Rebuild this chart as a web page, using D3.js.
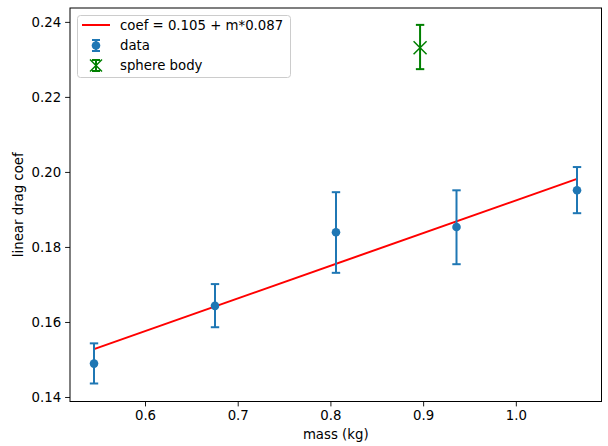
<!DOCTYPE html>
<html><head><meta charset="utf-8">
<script src="https://cdn.jsdelivr.net/npm/d3@7"></script>
<style>body{margin:0;background:#fff}svg{display:block}text{font-family:"DejaVu Sans",sans-serif;fill:#000}</style>
</head><body>
<script>
const massData = [0.545, 0.6755, 0.806, 0.936, 1.066];
const coefData = [0.1489, 0.1643, 0.1839, 0.1853, 0.1951];
const errLow = [0.1436, 0.1586, 0.1731, 0.1754, 0.1890];
const errHigh = [0.1543, 0.1701, 0.1946, 0.1951, 0.2013];
const sphereMass = [0.8967];
const sphereCoef = [0.2331];
const sphereLow = [0.2274];
const sphereHigh = [0.2392];
const fitIntercept = 0.1053, fitSlope = 0.0871;
const xTicks = [0.6, 0.7, 0.8, 0.9, 1.0];
const yTicks = [0.14, 0.16, 0.18, 0.20, 0.22, 0.24];
const legendLabels = ["coef = 0.105 + m*0.087", "data", "sphere body"];

const W = 608, H = 446;
const L = 70, R = 601.5, T = 8, B = 401.5;
const svg = d3.select("body").append("svg").attr("width", W).attr("height", H);
const x = d3.scaleLinear().domain([0.5191, 1.0924]).range([L, R]);
const y = d3.scaleLinear().domain([0.1388, 0.2437]).range([B, T]);
const fs = "13.3px";

// axes
const xa = svg.append("g").attr("transform", `translate(0,${B})`)
  .call(d3.axisBottom(x).tickValues(xTicks).tickFormat(d3.format(".1f")).tickSize(4.9).tickPadding(4));
const ya = svg.append("g").attr("transform", `translate(${L},0)`)
  .call(d3.axisLeft(y).tickValues(yTicks).tickFormat(d3.format(".2f")).tickSize(4.9).tickPadding(4));
[xa, ya].forEach(a => {
  a.select(".domain").remove();
  a.selectAll("text").style("font-size", fs).style("font-family", "DejaVu Sans").attr("fill", "#000");
  a.selectAll("line").attr("stroke", "#000").attr("stroke-width", 0.9);
});

// fit line
const fx = d3.extent(massData);
svg.append("path")
  .datum(fx.map(m => [m, fitIntercept + fitSlope * m]))
  .attr("d", d3.line().x(d => x(d[0])).y(d => y(d[1])))
  .attr("stroke", "red").attr("stroke-width", 2).attr("fill", "none");

// data error bars
const blue = "#1f77b4";
const cap = 4.2;
const dg = svg.append("g");
massData.forEach((m, i) => {
  const cx = x(m);
  dg.append("line").attr("x1", cx).attr("x2", cx).attr("y1", y(errLow[i])).attr("y2", y(errHigh[i])).attr("stroke", blue).attr("stroke-width", 2);
  [errLow[i], errHigh[i]].forEach(v => dg.append("line").attr("x1", cx - cap).attr("x2", cx + cap).attr("y1", y(v)).attr("y2", y(v)).attr("stroke", blue).attr("stroke-width", 2));
  dg.append("circle").attr("cx", cx).attr("cy", y(coefData[i])).attr("r", 4.3).attr("fill", blue);
});

// sphere
const green = "#008000";
sphereMass.forEach((m, i) => {
  const cx = x(m), cy = y(sphereCoef[i]);
  dg.append("line").attr("x1", cx).attr("x2", cx).attr("y1", y(sphereLow[i])).attr("y2", y(sphereHigh[i])).attr("stroke", green).attr("stroke-width", 2);
  [sphereLow[i], sphereHigh[i]].forEach(v => dg.append("line").attr("x1", cx - cap).attr("x2", cx + cap).attr("y1", y(v)).attr("y2", y(v)).attr("stroke", green).attr("stroke-width", 2));
  const s = 6.5;
  dg.append("path").attr("d", `M${cx - s},${cy - s}L${cx + s},${cy + s}M${cx - s},${cy + s}L${cx + s},${cy - s}`).attr("stroke", green).attr("stroke-width", 1.5);
});

// frame
svg.append("rect").attr("x", L).attr("y", T).attr("width", R - L).attr("height", B - T).attr("fill", "none").attr("stroke", "#000").attr("stroke-width", 1);

// legend
const lg = svg.append("g");
lg.append("rect").attr("x", 77.5).attr("y", 15.5).attr("width", 213).attr("height", 62).attr("rx", 3)
  .attr("fill", "#fff").attr("fill-opacity", 0.8).attr("stroke", "#ccc").attr("stroke-width", 1);
const rowY = [25, 45.5, 65.5];
lg.append("line").attr("x1", 82).attr("x2", 110).attr("y1", rowY[0]).attr("y2", rowY[0]).attr("stroke", "red").attr("stroke-width", 2);
{
  const cx = 96, cy = rowY[1];
  lg.append("line").attr("x1", cx).attr("x2", cx).attr("y1", cy - 5.5).attr("y2", cy + 5.5).attr("stroke", blue).attr("stroke-width", 2);
  [cy - 5.5, cy + 5.5].forEach(v => lg.append("line").attr("x1", cx - 4).attr("x2", cx + 4).attr("y1", v).attr("y2", v).attr("stroke", blue).attr("stroke-width", 2));
  lg.append("circle").attr("cx", cx).attr("cy", cy).attr("r", 4.3).attr("fill", blue);
}
{
  const cx = 96, cy = rowY[2], s = 6;
  lg.append("line").attr("x1", cx).attr("x2", cx).attr("y1", cy - 5.5).attr("y2", cy + 5.5).attr("stroke", green).attr("stroke-width", 2);
  [cy - 5.5, cy + 5.5].forEach(v => lg.append("line").attr("x1", cx - 4).attr("x2", cx + 4).attr("y1", v).attr("y2", v).attr("stroke", green).attr("stroke-width", 2));
  lg.append("path").attr("d", `M${cx - s},${cy - s}L${cx + s},${cy + s}M${cx - s},${cy + s}L${cx + s},${cy - s}`).attr("stroke", green).attr("stroke-width", 1.5);
}
legendLabels.forEach((t, i) => lg.append("text").attr("x", 120).attr("y", rowY[i]).attr("dy", "0.35em").style("font-size", fs).text(t));

// axis labels
svg.append("text").attr("x", (L + R) / 2).attr("y", 439).attr("text-anchor", "middle").style("font-size", fs).text("mass (kg)");
svg.append("text").attr("transform", `translate(23,${(T + B) / 2}) rotate(-90)`).attr("text-anchor", "middle").style("font-size", fs).text("linear drag coef");
</script>
</body></html>
